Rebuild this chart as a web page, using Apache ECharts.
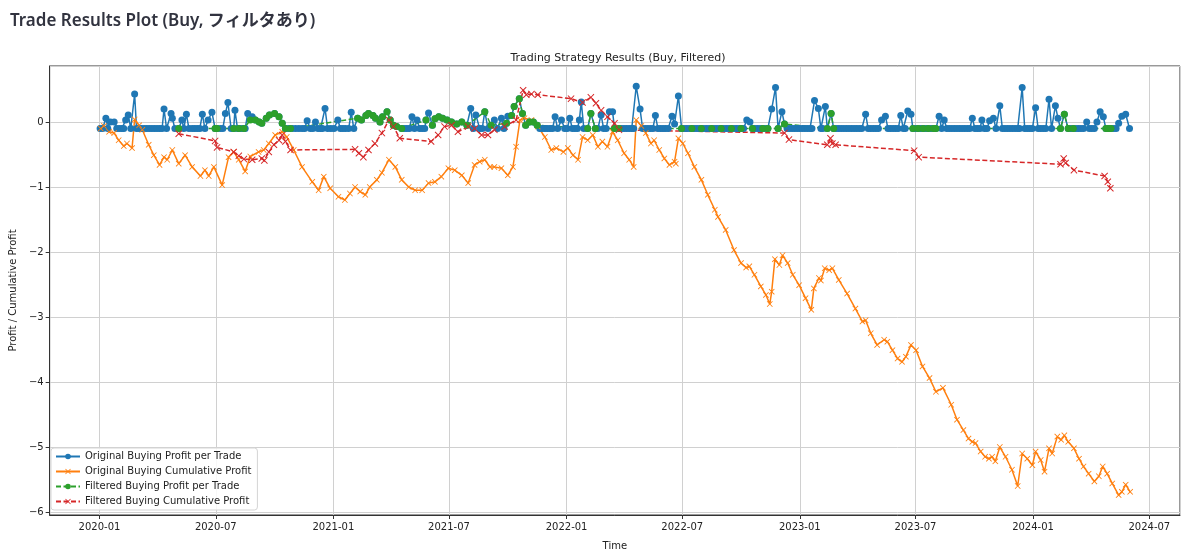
<!DOCTYPE html>
<html>
<head>
<meta charset="utf-8">
<title>Trade Results Plot</title>
<script src="https://cdn.jsdelivr.net/npm/echarts@6/dist/echarts.min.js"></script>
<style>
  html, body { margin: 0; padding: 0; background: #fff; }
  #chart { width: 1200px; height: 556px; }
</style>
</head>
<body>
<div id="chart"></div>
<script>
var pageTitle = 'Trade Results Plot (Buy, フィルタあり)';
var plotTitle = 'Trading Strategy Results (Buy, Filtered)';
var seriesNames = [
  'Original Buying Profit per Trade',
  'Original Buying Cumulative Profit',
  'Filtered Buying Profit per Trade',
  'Filtered Buying Cumulative Profit'
];
var timeRange = ['2019-10-15', '2024-08-18'];
var valueRange = [-6.046, 0.862];

// original trades, profit per trade
var origProfit = [
  ['2020-01-02',-0.1],['2020-01-06',-0.1],['2020-01-11',0.06],['2020-01-14',-0.1],['2020-01-18',0.0],['2020-01-24',0.0],['2020-01-28',-0.1],
  ['2020-02-01',-0.1],['2020-02-05',-0.1],['2020-02-08',-0.1],['2020-02-11',0.03],['2020-02-15',0.11],['2020-02-19',-0.1],['2020-02-25',0.43],['2020-02-28',-0.1],
  ['2020-03-03',-0.1],['2020-03-07',-0.1],['2020-03-11',-0.1],['2020-03-15',-0.1],['2020-03-19',-0.1],['2020-03-23',-0.1],['2020-03-27',-0.1],['2020-03-31',-0.1],
  ['2020-04-04',-0.1],['2020-04-08',-0.1],['2020-04-11',0.20],['2020-04-15',-0.1],['2020-04-22',0.13],['2020-04-24',0.06],['2020-04-28',-0.1],
  ['2020-05-04',-0.1],['2020-05-09',0.03],['2020-05-12',-0.1],['2020-05-16',0.12],['2020-05-20',-0.1],['2020-05-25',-0.1],['2020-05-29',-0.1],
  ['2020-06-02',-0.1],['2020-06-06',-0.1],['2020-06-10',0.12],['2020-06-14',-0.1],['2020-06-19',0.03],['2020-06-25',0.15],['2020-06-30',-0.1],
  ['2020-07-03',-0.1],['2020-07-08',-0.1],['2020-07-12',-0.1],['2020-07-16',0.13],['2020-07-20',0.30],['2020-07-25',-0.1],['2020-07-29',-0.1],['2020-07-31',0.18],
  ['2020-08-04',-0.1],['2020-08-07',-0.1],['2020-08-11',-0.1],['2020-08-16',-0.1],['2020-08-20',0.13],['2020-08-27',0.08],
  ['2020-09-01',0.03],['2020-09-07',0.0],['2020-09-11',-0.02],['2020-09-18',0.06],['2020-09-23',0.11],['2020-10-01',0.13],['2020-10-08',0.08],['2020-10-13',-0.02],['2020-10-18',-0.1],['2020-10-23',-0.1],['2020-10-29',-0.1],
  ['2020-11-03',-0.1],['2020-11-08',-0.1],['2020-11-13',-0.1],['2020-11-17',-0.1],['2020-11-21',0.02],['2020-11-26',-0.1],['2020-11-30',-0.1],
  ['2020-12-04',0.0],['2020-12-08',-0.1],['2020-12-12',-0.1],['2020-12-15',-0.1],['2020-12-19',0.21],['2020-12-23',-0.1],['2020-12-28',-0.1],
  ['2021-01-02',-0.1],['2021-01-08',0.03],['2021-01-12',-0.1],['2021-01-16',-0.1],['2021-01-20',-0.1],['2021-01-25',-0.1],['2021-01-29',0.15],
  ['2021-02-02',-0.1],['2021-02-08',0.06],['2021-02-14',0.03],['2021-02-21',0.10],['2021-02-25',0.13],
  ['2021-03-04',0.10],['2021-03-08',0.06],['2021-03-15',0.0],['2021-03-19',0.08],['2021-03-26',0.16],['2021-03-31',0.03],
  ['2021-04-05',-0.05],['2021-04-10',-0.07],['2021-04-18',-0.1],['2021-04-22',-0.1],['2021-04-26',-0.1],['2021-04-30',-0.1],
  ['2021-05-04',0.08],['2021-05-08',-0.1],['2021-05-12',0.03],['2021-05-16',-0.1],['2021-05-20',-0.1],['2021-05-24',-0.1],['2021-05-26',0.03],['2021-05-30',0.14],
  ['2021-06-05',-0.05],['2021-06-09',0.05],['2021-06-15',0.08],['2021-06-21',0.06],['2021-06-28',0.03],
  ['2021-07-05',0.0],['2021-07-13',-0.03],['2021-07-21',0.0],['2021-07-29',-0.05],
  ['2021-08-04',0.21],['2021-08-08',-0.1],['2021-08-12',0.11],['2021-08-18',-0.1],['2021-08-22',-0.1],['2021-08-26',0.16],['2021-08-31',-0.1],
  ['2021-09-05',-0.05],['2021-09-10',0.03],['2021-09-15',-0.1],['2021-09-21',0.06],['2021-09-25',-0.1],['2021-09-29',-0.02],
  ['2021-10-01',0.09],['2021-10-07',0.10],['2021-10-11',0.24],['2021-10-19',0.36],['2021-10-24',0.13],['2021-10-29',-0.05],
  ['2021-11-04',0.0],['2021-11-10',0.0],['2021-11-16',-0.05],['2021-11-20',-0.1],['2021-11-24',-0.1],['2021-11-28',-0.1],
  ['2021-12-02',-0.1],['2021-12-06',-0.1],['2021-12-10',-0.1],['2021-12-14',0.08],['2021-12-18',-0.1],['2021-12-24',0.03],['2021-12-29',-0.1],
  ['2022-01-02',-0.1],['2022-01-06',0.06],['2022-01-10',-0.1],['2022-01-14',-0.1],['2022-01-18',-0.1],['2022-01-21',0.03],['2022-01-24',0.31],['2022-01-28',-0.1],
  ['2022-02-03',-0.1],['2022-02-08',0.13],['2022-02-15',-0.1],['2022-02-19',-0.1],['2022-02-24',0.11],['2022-02-28',-0.1],
  ['2022-03-04',-0.1],['2022-03-09',0.16],['2022-03-14',0.16],['2022-03-17',-0.1],['2022-03-24',-0.1],['2022-03-28',-0.1],
  ['2022-04-01',-0.1],['2022-04-05',-0.1],['2022-04-09',-0.1],['2022-04-13',-0.1],['2022-04-16',-0.1],['2022-04-20',0.55],['2022-04-26',0.20],['2022-04-30',-0.1],
  ['2022-05-04',-0.1],['2022-05-08',-0.1],['2022-05-12',-0.1],['2022-05-16',-0.1],['2022-05-20',0.10],['2022-05-24',-0.1],['2022-05-28',-0.1],
  ['2022-06-01',-0.1],['2022-06-05',-0.1],['2022-06-09',-0.1],['2022-06-15',0.09],['2022-06-19',-0.03],['2022-06-25',0.40],['2022-06-30',-0.1],
  ['2022-07-04',-0.1],['2022-07-08',-0.1],['2022-07-12',-0.1],['2022-07-16',-0.1],['2022-07-20',-0.1],['2022-07-24',-0.1],['2022-07-28',-0.1],['2022-07-31',-0.1],
  ['2022-08-04',-0.1],['2022-08-08',-0.1],['2022-08-12',-0.1],['2022-08-16',-0.1],['2022-08-20',-0.1],['2022-08-24',-0.1],['2022-08-28',-0.1],['2022-08-31',-0.1],
  ['2022-09-04',-0.1],['2022-09-08',-0.1],['2022-09-12',-0.1],['2022-09-16',-0.1],['2022-09-20',-0.1],['2022-09-24',-0.1],['2022-09-28',-0.1],
  ['2022-10-01',-0.1],['2022-10-05',-0.1],['2022-10-10',0.03],['2022-10-15',0.0],['2022-10-19',-0.1],['2022-10-23',-0.1],['2022-10-27',-0.1],['2022-10-31',-0.1],
  ['2022-11-04',-0.1],['2022-11-08',-0.1],['2022-11-12',-0.1],['2022-11-18',0.20],['2022-11-24',0.53],['2022-11-28',-0.1],
  ['2022-12-04',0.16],['2022-12-08',-0.03],['2022-12-12',-0.1],['2022-12-16',-0.1],['2022-12-20',-0.1],['2022-12-24',-0.1],['2022-12-28',-0.1],
  ['2023-01-01',-0.1],['2023-01-05',-0.1],['2023-01-09',-0.1],['2023-01-13',-0.1],['2023-01-17',-0.1],['2023-01-20',-0.1],['2023-01-24',0.33],['2023-01-30',0.21],
  ['2023-02-03',-0.1],['2023-02-06',-0.1],['2023-02-10',0.24],['2023-02-13',-0.1],['2023-02-19',0.13],['2023-02-23',-0.1],['2023-02-27',-0.1],
  ['2023-03-03',-0.1],['2023-03-07',-0.1],['2023-03-11',-0.1],['2023-03-15',-0.1],['2023-03-19',-0.1],['2023-03-23',-0.1],['2023-03-27',-0.1],['2023-03-31',-0.1],
  ['2023-04-04',-0.1],['2023-04-08',-0.1],['2023-04-14',0.12],['2023-04-18',-0.1],['2023-04-22',-0.1],['2023-04-26',-0.1],['2023-04-30',-0.1],
  ['2023-05-04',-0.1],['2023-05-09',0.03],['2023-05-15',0.09],['2023-05-19',-0.1],['2023-05-23',-0.1],['2023-05-27',-0.1],['2023-05-31',-0.1],
  ['2023-06-04',-0.1],['2023-06-08',0.10],['2023-06-12',-0.1],['2023-06-15',-0.1],['2023-06-19',0.17],['2023-06-24',0.12],['2023-06-27',-0.1],
  ['2023-07-01',-0.1],['2023-07-05',-0.1],['2023-07-09',-0.1],['2023-07-13',-0.1],['2023-07-17',-0.1],['2023-07-21',-0.1],['2023-07-25',-0.1],['2023-07-29',-0.1],
  ['2023-08-02',-0.1],['2023-08-07',0.09],['2023-08-11',-0.1],['2023-08-15',0.03],['2023-08-19',-0.1],['2023-08-23',-0.1],['2023-08-27',-0.1],['2023-08-31',-0.1],
  ['2023-09-04',-0.1],['2023-09-08',-0.1],['2023-09-12',-0.1],['2023-09-16',-0.1],['2023-09-20',-0.1],['2023-09-24',-0.1],['2023-09-28',0.06],
  ['2023-10-02',-0.1],['2023-10-06',-0.1],['2023-10-10',-0.1],['2023-10-13',0.03],['2023-10-17',-0.1],['2023-10-21',-0.1],['2023-10-25',0.02],['2023-10-31',0.06],
  ['2023-11-04',-0.1],['2023-11-10',0.25],['2023-11-14',-0.1],['2023-11-18',-0.1],['2023-11-22',-0.1],['2023-11-26',-0.1],['2023-11-30',-0.1],
  ['2023-12-04',-0.1],['2023-12-08',-0.1],['2023-12-11',-0.1],['2023-12-15',0.53],['2023-12-19',-0.1],['2023-12-23',-0.1],['2023-12-27',-0.1],['2023-12-31',-0.1],
  ['2024-01-05',0.22],['2024-01-09',-0.1],['2024-01-13',-0.1],['2024-01-17',-0.1],['2024-01-21',-0.1],['2024-01-26',0.35],['2024-01-30',-0.1],
  ['2024-02-05',0.25],['2024-02-09',0.06],['2024-02-13',-0.1],['2024-02-19',0.12],['2024-02-25',-0.1],['2024-02-29',-0.1],
  ['2024-03-04',-0.1],['2024-03-08',-0.1],['2024-03-12',-0.1],['2024-03-16',-0.1],['2024-03-20',-0.1],['2024-03-25',0.0],['2024-03-29',-0.1],
  ['2024-04-02',-0.1],['2024-04-06',-0.1],['2024-04-10',0.0],['2024-04-15',0.16],['2024-04-20',0.08],['2024-04-24',-0.1],['2024-04-28',-0.1],
  ['2024-05-02',-0.1],['2024-05-06',-0.1],['2024-05-10',-0.1],['2024-05-14',-0.02],['2024-05-19',0.09],['2024-05-25',0.12],['2024-05-31',-0.1]
];

// original trades, cumulative profit
var origCum = [
  ['2020-01-03',-0.10],['2020-01-08',-0.06],['2020-01-16',-0.15],['2020-01-24',-0.17],['2020-01-31',-0.28],['2020-02-08',-0.37],['2020-02-13',-0.33],['2020-02-21',-0.40],['2020-02-25',0.04],
  ['2020-03-03',-0.05],['2020-03-08',-0.12],['2020-03-18',-0.35],['2020-03-26',-0.51],['2020-04-04',-0.66],['2020-04-11',-0.54],['2020-04-16',-0.58],['2020-04-24',-0.43],
  ['2020-05-04',-0.64],['2020-05-14',-0.51],['2020-05-25',-0.69],['2020-06-07',-0.83],['2020-06-14',-0.74],['2020-06-20',-0.83],['2020-06-28',-0.69],
  ['2020-07-11',-0.97],['2020-07-21',-0.54],['2020-07-29',-0.46],['2020-08-06',-0.58],['2020-08-16',-0.76],['2020-08-24',-0.53],['2020-09-06',-0.46],['2020-09-14',-0.43],['2020-09-22',-0.33],
  ['2020-10-02',-0.20],['2020-10-13',-0.15],['2020-10-20',-0.23],['2020-10-31',-0.43],['2020-11-13',-0.69],['2020-11-29',-0.92],['2020-12-09',-1.05],['2020-12-17',-0.84],['2020-12-27',-1.02],
  ['2021-01-09',-1.15],['2021-01-19',-1.20],['2021-01-27',-1.10],['2021-02-04',-1.00],['2021-02-12',-1.07],['2021-02-20',-1.12],['2021-02-27',-1.00],['2021-03-10',-0.89],['2021-03-18',-0.78],['2021-03-29',-0.58],
  ['2021-04-08',-0.69],['2021-04-18',-0.89],['2021-04-29',-1.00],['2021-05-09',-1.05],['2021-05-20',-1.05],['2021-05-30',-0.94],['2021-06-09',-0.92],['2021-06-19',-0.84],['2021-06-30',-0.71],
  ['2021-07-10',-0.74],['2021-07-21',-0.82],['2021-07-31',-0.94],['2021-08-10',-0.66],['2021-08-18',-0.61],['2021-08-26',-0.58],['2021-09-03',-0.69],['2021-09-10',-0.69],['2021-09-21',-0.71],
  ['2021-10-01',-0.82],['2021-10-09',-0.69],['2021-10-14',-0.38],['2021-10-20',0.03],['2021-10-27',0.06],['2021-11-07',0.03],['2021-11-17',-0.07],['2021-11-28',-0.23],
  ['2021-12-08',-0.43],['2021-12-16',-0.40],['2021-12-27',-0.46],['2022-01-03',-0.40],['2022-01-11',-0.51],['2022-01-19',-0.58],['2022-01-26',-0.23],
  ['2022-02-03',-0.28],['2022-02-11',-0.20],['2022-02-19',-0.38],['2022-02-26',-0.30],['2022-03-06',-0.38],['2022-03-14',-0.15],['2022-03-22',-0.28],
  ['2022-04-01',-0.48],['2022-04-09',-0.58],['2022-04-16',-0.69],['2022-04-20',0.03],['2022-04-28',-0.06],['2022-05-05',-0.17],['2022-05-13',-0.33],['2022-05-18',-0.28],['2022-05-26',-0.43],
  ['2022-06-03',-0.56],['2022-06-11',-0.66],['2022-06-19',-0.61],['2022-06-21',-0.64],['2022-06-25',-0.25],['2022-07-02',-0.33],['2022-07-10',-0.48],['2022-07-20',-0.69],['2022-07-31',-0.89],
  ['2022-08-10',-1.12],['2022-08-21',-1.35],['2022-08-26',-1.46],['2022-09-07',-1.66],['2022-09-20',-1.97],['2022-10-01',-2.17],['2022-10-09',-2.24],['2022-10-14',-2.22],['2022-10-22',-2.35],
  ['2022-11-01',-2.53],['2022-11-09',-2.66],['2022-11-15',-2.80],['2022-11-18',-2.61],['2022-11-23',-2.11],['2022-11-30',-2.20],['2022-12-05',-2.05],['2022-12-13',-2.17],['2022-12-21',-2.35],['2022-12-31',-2.51],
  ['2023-01-10',-2.71],['2023-01-19',-2.89],['2023-01-23',-2.56],['2023-01-31',-2.40],['2023-02-03',-2.44],['2023-02-09',-2.25],['2023-02-16',-2.28],['2023-02-21',-2.25],
  ['2023-03-03',-2.43],['2023-03-16',-2.64],['2023-03-29',-2.87],['2023-04-09',-3.07],['2023-04-14',-3.05],['2023-04-22',-3.25],['2023-05-02',-3.43],['2023-05-13',-3.35],['2023-05-18',-3.38],['2023-05-26',-3.51],
  ['2023-06-03',-3.64],['2023-06-10',-3.69],['2023-06-16',-3.61],['2023-06-24',-3.43],['2023-07-02',-3.51],['2023-07-12',-3.76],['2023-07-23',-3.94],
  ['2023-08-02',-4.15],['2023-08-13',-4.09],['2023-08-26',-4.35],['2023-09-04',-4.58],['2023-09-14',-4.74],['2023-09-22',-4.87],['2023-09-28',-4.92],
  ['2023-10-03',-4.94],['2023-10-11',-5.07],['2023-10-18',-5.15],['2023-10-24',-5.18],['2023-10-29',-5.15],['2023-11-03',-5.22],['2023-11-10',-5.00],['2023-11-19',-5.15],['2023-11-29',-5.35],
  ['2023-12-08',-5.60],['2023-12-15',-5.10],['2023-12-23',-5.18],['2023-12-31',-5.28],['2024-01-05',-5.07],['2024-01-13',-5.20],['2024-01-19',-5.38],['2024-01-26',-5.02],['2024-01-31',-5.10],
  ['2024-02-08',-4.84],['2024-02-14',-4.89],['2024-02-19',-4.82],['2024-02-25',-4.92],['2024-03-05',-5.02],['2024-03-13',-5.18],['2024-03-20',-5.30],['2024-03-28',-5.41],
  ['2024-04-06',-5.53],['2024-04-13',-5.45],['2024-04-19',-5.30],['2024-04-26',-5.41],['2024-05-04',-5.56],['2024-05-14',-5.74],['2024-05-19',-5.69],['2024-05-25',-5.58],['2024-06-01',-5.69]
];

// filtered trades, profit per trade
var filtProfit = [
  ['2020-05-04',-0.1],['2020-06-30',-0.1],['2020-07-03',-0.1],['2020-07-29',-0.1],['2020-08-06',-0.1],['2020-08-14',-0.1],
  ['2020-08-24',0.03],['2020-09-01',0.03],['2020-09-07',0.0],['2020-09-11',-0.02],['2020-09-18',0.06],['2020-09-23',0.11],['2020-10-01',0.13],['2020-10-08',0.08],['2020-10-13',-0.02],['2020-10-18',-0.1],['2020-10-26',-0.1],
  ['2021-02-08',0.06],['2021-02-14',0.03],['2021-02-21',0.10],['2021-02-25',0.13],['2021-03-04',0.10],['2021-03-08',0.06],['2021-03-15',0.0],['2021-03-19',0.08],['2021-03-26',0.16],['2021-03-31',0.03],['2021-04-05',-0.05],['2021-04-10',-0.07],['2021-04-18',-0.1],
  ['2021-05-26',0.03],['2021-06-05',-0.05],['2021-06-09',0.05],['2021-06-15',0.08],['2021-06-21',0.06],['2021-06-28',0.03],['2021-07-05',0.0],['2021-07-13',-0.03],['2021-07-21',0.0],['2021-07-29',-0.05],
  ['2021-08-26',0.16],['2021-09-05',-0.05],['2021-09-29',-0.02],['2021-10-07',0.10],['2021-10-11',0.24],['2021-10-19',0.36],['2021-10-24',0.13],['2021-10-29',-0.05],['2021-11-04',0.0],['2021-11-10',0.0],['2021-11-16',-0.05],
  ['2022-02-03',-0.1],['2022-02-08',0.13],['2022-02-15',-0.1],['2022-03-17',-0.1],['2022-03-24',-0.1],
  ['2022-06-30',-0.1],['2022-07-16',-0.1],['2022-07-31',-0.1],['2022-08-16',-0.1],['2022-08-31',-0.1],['2022-09-16',-0.1],['2022-10-01',-0.1],['2022-10-19',-0.1],['2022-11-04',-0.1],['2022-11-12',-0.1],['2022-11-28',-0.1],['2022-12-08',-0.03],
  ['2023-02-13',-0.1],['2023-02-19',0.13],['2023-02-23',-0.1],
  ['2023-06-27',-0.1],['2023-07-05',-0.1],['2023-07-13',-0.1],['2023-07-21',-0.1],['2023-07-29',-0.1],['2023-08-02',-0.1],
  ['2024-02-13',-0.1],['2024-02-19',0.12],['2024-02-25',-0.1],['2024-03-04',-0.1],
  ['2024-04-24',-0.1],['2024-04-28',-0.1],['2024-05-02',-0.1]
];

// filtered trades, cumulative profit
var filtCum = [
  ['2020-05-04',-0.18],['2020-06-30',-0.29],['2020-07-03',-0.39],['2020-07-29',-0.46],['2020-08-06',-0.52],['2020-08-14',-0.57],['2020-08-27',-0.58],['2020-09-11',-0.56],['2020-09-15',-0.59],
  ['2020-09-22',-0.46],['2020-09-30',-0.35],['2020-10-08',-0.28],['2020-10-13',-0.20],['2020-10-18',-0.30],['2020-10-26',-0.43],
  ['2021-02-04',-0.42],['2021-02-10',-0.48],['2021-02-17',-0.54],['2021-02-25',-0.43],['2021-03-07',-0.33],['2021-03-18',-0.17],['2021-03-29',0.03],['2021-04-05',-0.07],['2021-04-15',-0.25],
  ['2021-06-03',-0.30],['2021-06-14',-0.20],['2021-06-24',-0.07],['2021-07-05',-0.05],['2021-07-15',-0.15],['2021-07-31',-0.07],['2021-08-10',-0.10],['2021-08-21',-0.20],['2021-08-31',-0.20],
  ['2021-09-10',-0.12],['2021-09-26',-0.07],['2021-10-14',0.03],['2021-10-25',0.49],['2021-10-30',0.42],['2021-11-07',0.43],['2021-11-17',0.42],
  ['2022-01-08',0.36],['2022-01-26',0.30],['2022-02-08',0.38],['2022-02-16',0.29],['2022-02-24',0.18],['2022-03-06',0.08],['2022-03-17',-0.02],['2022-03-24',-0.12],
  ['2022-12-08',-0.17],['2022-12-15',-0.27],['2023-02-13',-0.35],['2023-02-18',-0.25],['2023-02-21',-0.33],['2023-02-26',-0.35],
  ['2023-06-29',-0.44],['2023-07-06',-0.54],['2024-02-13',-0.65],['2024-02-18',-0.56],['2024-02-21',-0.63],['2024-03-05',-0.74],
  ['2024-04-22',-0.83],['2024-04-27',-0.92],['2024-05-01',-1.02]
];

var crossSymbol = 'path://M1,0L5,4L9,0L10,1L6,5L10,9L9,10L5,6L1,10L0,9L4,5L0,1Z';
var textColor = '#222';
var font = 'DejaVu Sans';

function minusLabel(v) {
  return v < 0 ? '\u2212' + Math.abs(v) : String(v);
}

var chart = echarts.init(document.getElementById('chart'));
chart.setOption({
  animation: false,
  backgroundColor: '#fff',
  title: [
    {
      text: pageTitle,
      left: 5, top: 8,
      textStyle: { fontFamily: '"Noto Sans", "Noto Sans CJK JP"', fontSize: 17, fontWeight: 600, color: '#31333f' }
    },
    {
      text: plotTitle,
      left: 613, top: 48, textAlign: 'center',
      textStyle: { fontFamily: font, fontSize: 11, fontWeight: 'normal', color: textColor }
    }
  ],
  grid: {
    left: 47, right: 20, top: 66, bottom: 41,
    show: true, borderColor: '#333', borderWidth: 1, backgroundColor: 'transparent'
  },
  legend: {
    orient: 'vertical',
    left: 51, top: 448,
    data: seriesNames,
    itemWidth: 24, itemHeight: 7, itemGap: 4,
    padding: [3, 6, 3, 4],
    backgroundColor: 'rgba(255,255,255,0.85)',
    borderColor: '#d5d5d5', borderWidth: 1, borderRadius: 3,
    textStyle: { fontFamily: font, fontSize: 10, color: textColor, lineHeight: 11 }
  },
  xAxis: {
    type: 'time',
    min: timeRange[0], max: timeRange[1],
    minInterval: 180 * 86400000, maxInterval: 186 * 86400000,
    name: 'Time', nameLocation: 'middle', nameGap: 26,
    nameTextStyle: { fontFamily: font, fontSize: 10, color: textColor },
    axisLine: { show: true, onZero: false, lineStyle: { color: '#333', width: 1 } },
    axisTick: { show: true, length: 4, lineStyle: { color: '#333' } },
    axisLabel: {
      fontFamily: font, fontSize: 10, color: textColor, margin: 7,
      showMinLabel: false, showMaxLabel: false,
      formatter: function (v) { return echarts.time.format(v, '{yyyy}-{MM}', false); }
    },
    splitLine: { show: true, lineStyle: { color: '#d0d0d0', width: 1 } }
  },
  yAxis: {
    type: 'value',
    min: valueRange[0], max: valueRange[1], splitNumber: 7,
    name: 'Profit / Cumulative Profit', nameLocation: 'middle', nameGap: 30,
    nameTextStyle: { fontFamily: font, fontSize: 10, color: textColor },
    axisLine: { show: true, onZero: false, lineStyle: { color: '#333', width: 1 } },
    axisTick: { show: true, length: 4, lineStyle: { color: '#333' } },
    axisLabel: {
      fontFamily: font, fontSize: 10, color: textColor, margin: 6,
      showMinLabel: false, showMaxLabel: false,
      formatter: minusLabel
    },
    splitLine: { show: true, lineStyle: { color: '#d0d0d0', width: 1 } }
  },
  series: [
    {
      name: seriesNames[0], type: 'line', data: origProfit,
      symbol: 'circle', symbolSize: 7, showAllSymbol: true,
      lineStyle: { color: '#1f77b4', width: 1.5 },
      itemStyle: { color: '#1f77b4' }
    },
    {
      name: seriesNames[1], type: 'line', data: origCum,
      symbol: crossSymbol, symbolSize: 6, showAllSymbol: true,
      lineStyle: { color: '#ff7f0e', width: 1.5 },
      itemStyle: { color: '#ff7f0e' }
    },
    {
      name: seriesNames[2], type: 'line', data: filtProfit,
      symbol: 'circle', symbolSize: 7, showAllSymbol: true,
      lineStyle: { color: '#2ca02c', width: 1.5, type: [5, 2.5] },
      itemStyle: { color: '#2ca02c' }
    },
    {
      name: seriesNames[3], type: 'line', data: filtCum,
      symbol: crossSymbol, symbolSize: 7, showAllSymbol: true,
      lineStyle: { color: '#d62728', width: 1.5, type: [5, 2.5] },
      itemStyle: { color: '#d62728' }
    }
  ]
});
</script>
</body>
</html>
